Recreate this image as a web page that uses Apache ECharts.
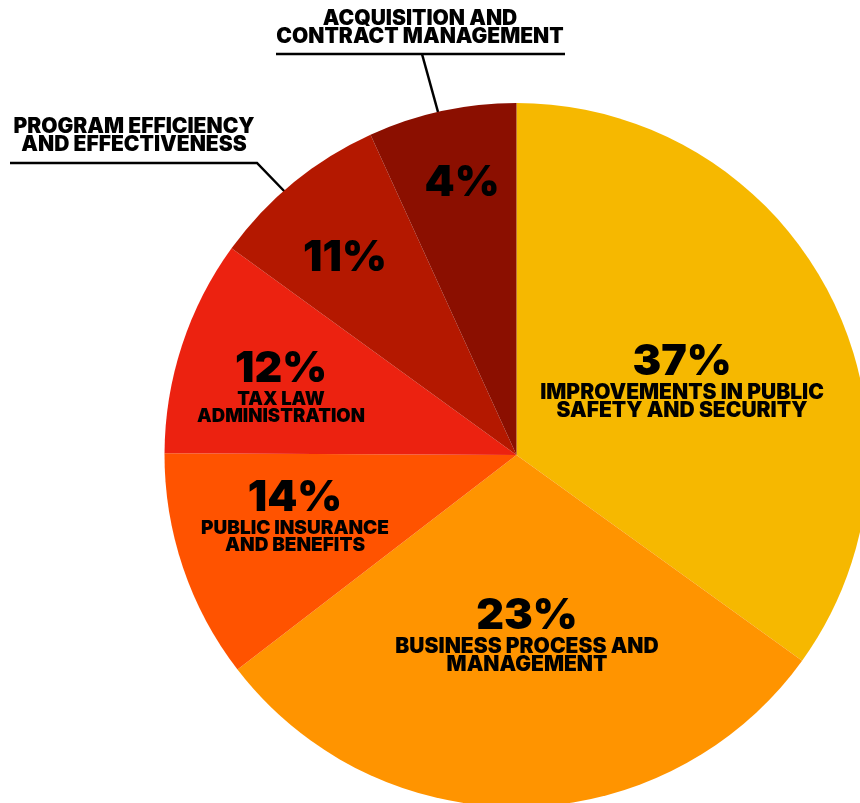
<!DOCTYPE html>
<html>
<head>
<meta charset="utf-8">
<script src="https://cdn.jsdelivr.net/npm/echarts@6/dist/echarts.min.js"></script>
<style>
html,body{margin:0;padding:0;background:#fff;}
#chart{width:860px;height:803px;}
</style>
</head>
<body>
<div id="chart"></div>
<script>
// Category names (clockwise from 12 o'clock)
const categories = [
  'IMPROVEMENTS IN PUBLIC\nSAFETY AND SECURITY',
  'BUSINESS PROCESS AND\nMANAGEMENT',
  'PUBLIC INSURANCE\nAND BENEFITS',
  'TAX LAW\nADMINISTRATION',
  'PROGRAM EFFICIENCY\nAND EFFECTIVENESS',
  'ACQUISITION AND\nCONTRACT MANAGEMENT'
];
// Slice sizes (percent of the circle)
const sliceValues = [34.9, 29.6, 10.5, 9.9, 8.2, 6.8];
// Percent labels printed on the chart
const pctLabels = ['37%', '23%', '14%', '12%', '11%', '4%'];
// Which names are printed inside the slice (others go outside with a leader line)
const nameInside = [true, true, true, true, false, false];

const colors = ['#F6B800', '#FF9400', '#FF5300', '#EC2210', '#B41800', '#8B0F00'];
const FONT = 'Inter, Lato, "Noto Sans", sans-serif';

// label block centres (pixels) and name font sizes
const labelPos = [[682, 380], [527, 634], [295, 515], [281, 386], [345, 258], [462, 183]];
const nameSize = [21, 21, 19, 18.5, 21, 21];
const nameLH = [18, 18, 17, 17, 18, 18];

const chart = echarts.init(document.getElementById('chart'), null, {renderer: 'canvas'});

const data = categories.map((c, i) => ({
  name: c,
  value: sliceValues[i],
  itemStyle: {color: colors[i]},
  label: {
    formatter: nameInside[i]
      ? '{p|' + pctLabels[i] + '}\n' + c.split('\n').map(s => '{n' + i + '|' + s + '}').join('\n')
      : '{p|' + pctLabels[i] + '}'
  }
}));

const rich = {p: {fontSize: 43, fontWeight: 900, fontFamily: FONT, color: '#000', lineHeight: 44}};
nameSize.forEach((s, i) => {
  rich['n' + i] = {fontSize: s, fontWeight: 900, fontFamily: FONT, color: '#000', lineHeight: nameLH[i]};
});

// outside labels
const outside = [
  {idx: 4, x: 134, y: 136, lines: [[[10, 163], [257, 163], [287, 194]]]},
  {idx: 5, x: 420, y: 28, lines: [[[276, 54], [565, 54]], [[422, 54], [438, 112]]]}
];
const graphics = [];
outside.forEach(o => {
  graphics.push({
    type: 'text', x: o.x, y: o.y,
    style: {
      text: categories[o.idx], x: 0, y: 0, align: 'center', verticalAlign: 'middle',
      font: '900 ' + nameSize[o.idx] + 'px ' + FONT, fill: '#000', lineHeight: nameLH[o.idx]
    },
    z: 10
  });
  o.lines.forEach(pts => graphics.push({
    type: 'polyline', shape: {points: pts},
    style: {stroke: '#000', lineWidth: 2.5, fill: null}, z: -1
  }));
});

chart.setOption({
  animation: false,
  backgroundColor: '#fff',
  graphic: graphics,
  series: [{
    type: 'pie',
    z: 2,
    center: [516.5, 455],
    radius: 352,
    startAngle: 90,
    clockwise: true,
    avoidLabelOverlap: false,
    itemStyle: {borderWidth: 0},
    emphasis: {disabled: true},
    label: {
      show: true,
      position: 'inside',
      align: 'center',
      rich: rich
    },
    labelLine: {show: false},
    labelLayout: function (p) {
      const pos = labelPos[p.dataIndex];
      return {x: pos[0], y: pos[1], align: 'center', verticalAlign: 'middle'};
    },
    data: data
  }]
});
</script>
</body>
</html>
